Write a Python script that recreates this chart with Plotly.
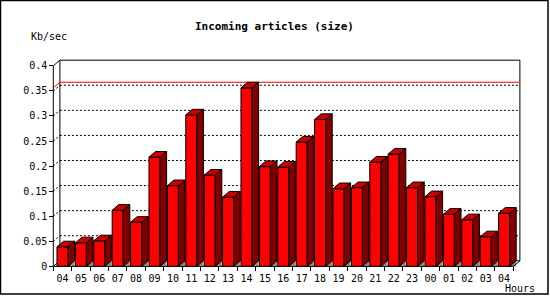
import plotly.graph_objects as go

# ---- data ----
hours = ['04', '05', '06', '07', '08', '09', '10', '11', '12', '13', '14', '15', '16',
         '17', '18', '19', '20', '21', '22', '23', '00', '01', '02', '03', '04']
values = [0.039, 0.047, 0.051, 0.112, 0.088, 0.218, 0.161, 0.302, 0.182, 0.138, 0.356,
          0.199, 0.198, 0.248, 0.293, 0.155, 0.157, 0.208, 0.224, 0.157, 0.139, 0.104,
          0.093, 0.059, 0.106]
y_ticks = [0, 0.05, 0.1, 0.15, 0.2, 0.25, 0.3, 0.35, 0.4]
y_ticktext = ['0', '0.05', '0.1', '0.15', '0.2', '0.25', '0.3', '0.35', '0.4']
title = 'Incoming articles (size)'
y_title = 'Kb/sec'
x_title = 'Hours'

# ---- geometry (pixel layout of the 3D frame) ----
W, H = 550, 300
n = len(hours)
x_left_px, x_right_px = 53.3, 513.3          # front x-axis extent
y0_px, ytop_px = 270.0, 66.7                 # front y-axis: 0 and 0.4
ymax = 0.4
sx = (x_right_px - x_left_px) / n            # px per category
sy = (y0_px - ytop_px) / ymax                # px per unit
depth_x_px, depth_y_px = 6.6, 5.7
dxu = depth_x_px / sx
dyu = depth_y_px / sy
pad = 2.0
bw = 0.6
hw = bw / 2

xr = [-0.5 - pad / sx, n - 0.5 + dxu + pad / sx]
yr = [-pad / sy, ymax + dyu + pad / sy]
xdom = [(x_left_px - pad) / W, (x_right_px + depth_x_px + pad) / W]
ydom = [(H - (y0_px + pad)) / H, (H - (ytop_px - depth_y_px - pad)) / H]

xs = list(range(n))

fig = go.Figure()

# floor shadow triangles
tx, ty = [], []
for i, v in zip(xs, values):
    tx += [i + hw, i + hw + dxu, i + hw + dxu, i + hw, None]
    ty += [0, dyu, 0, 0, None]
fig.add_trace(go.Scatter(x=tx, y=ty, fill='toself', fillcolor='#8c8c8c', mode='lines',
                         line=dict(color='#8c8c8c', width=0), hoverinfo='skip', showlegend=False))

# front faces
fig.add_trace(go.Bar(x=xs, y=values, width=bw, marker=dict(color='#ff0000', line=dict(color='black', width=1)),
                     hoverinfo='skip', showlegend=False))

# side faces
sxp, syp = [], []
for i, v in zip(xs, values):
    sxp += [i + hw, i + hw + dxu, i + hw + dxu, i + hw, i + hw, None]
    syp += [v, v + dyu, dyu, 0, v, None]
fig.add_trace(go.Scatter(x=sxp, y=syp, fill='toself', fillcolor='#800000', mode='lines',
                         line=dict(color='black', width=1), hoverinfo='skip', showlegend=False))

# top faces
txp, typ = [], []
for i, v in zip(xs, values):
    txp += [i - hw, i - hw + dxu, i + hw + dxu, i + hw, i - hw, None]
    typ += [v, v + dyu, v + dyu, v, v, None]
fig.add_trace(go.Scatter(x=txp, y=typ, fill='toself', fillcolor='#cc0000', mode='lines',
                         line=dict(color='black', width=1), hoverinfo='skip', showlegend=False))

shapes = []
L = dict(color='black', width=1)
# back wall
shapes.append(dict(type='rect', xref='x', yref='y', x0=-0.5 + dxu, x1=n - 0.5 + dxu,
                   y0=dyu, y1=ymax + dyu, line=L, layer='below'))
# gridlines on back wall + slants
for v in y_ticks[1:-1]:
    shapes.append(dict(type='line', xref='x', yref='y', x0=-0.5 + dxu, x1=n - 0.5 + dxu,
                       y0=v + dyu, y1=v + dyu, line=dict(color='black', width=1, dash='2px,2px'), layer='below'))
    shapes.append(dict(type='line', xref='x', yref='y', x0=-0.5, x1=-0.5 + dxu,
                       y0=v, y1=v + dyu, line=dict(color='black', width=1, dash='2px,2px'), layer='below'))
# top-left slant, floor slants
shapes.append(dict(type='line', xref='x', yref='y', x0=-0.5, x1=-0.5 + dxu, y0=ymax, y1=ymax + dyu, line=L))
shapes.append(dict(type='line', xref='x', yref='y', x0=-0.5, x1=-0.5 + dxu, y0=0, y1=dyu, line=L, layer='below'))
shapes.append(dict(type='line', xref='x', yref='y', x0=n - 0.5, x1=n - 0.5 + dxu, y0=0, y1=dyu, line=L))
# max line (red)
vmax = max(values)
shapes.append(dict(type='line', xref='x', yref='y', x0=-0.5 + dxu, x1=n - 0.5 + dxu,
                   y0=vmax + dyu, y1=vmax + dyu, line=dict(color='#ff0000', width=1), layer='below'))
shapes.append(dict(type='line', xref='x', yref='y', x0=-0.5, x1=-0.5 + dxu,
                   y0=vmax, y1=vmax + dyu, line=dict(color='#ff0000', width=1), layer='below'))
# front axes
shapes.append(dict(type='line', xref='x', yref='y', x0=-0.5, x1=-0.5, y0=0, y1=ymax, line=L))
shapes.append(dict(type='line', xref='x', yref='y', x0=-0.5, x1=n - 0.5, y0=0, y1=0, line=L))
# outer frame
shapes.append(dict(type='rect', xref='paper', yref='paper', x0=0.5 / W, x1=548 / W,
                   y0=(H - 298) / H, y1=(H - 0.5) / H, line=dict(color='black', width=1.5)))

font = dict(family='DejaVu Sans Mono', size=10, color='black')

fig.update_layout(
    width=W, height=H, margin=dict(l=0, r=0, t=0, b=0),
    paper_bgcolor='white', plot_bgcolor='white',
    showlegend=False, barmode='overlay',
    shapes=shapes,
    xaxis=dict(range=xr, domain=xdom, anchor='free', position=(H - y0_px) / H,
               tickmode='array', tickvals=xs, ticktext=hours, ticks='',
               ticklabelstandoff=5,
               showgrid=False, zeroline=False, showline=False, tickfont=font,
               minor=dict(tickmode='array', tickvals=[i - 0.5 for i in range(n + 1)],
                          ticks='outside', ticklen=4, tickcolor='black', showgrid=False)),
    yaxis=dict(range=yr, domain=ydom, anchor='free', position=x_left_px / W,
               tickmode='array', tickvals=y_ticks, ticktext=y_ticktext,
               ticks='outside', ticklen=4, tickcolor='black',
               showgrid=False, zeroline=False, showline=False, tickfont=font),
    annotations=[
        dict(text='<b>' + title + '</b>', xref='paper', yref='paper', x=274 / W, y=(H - 26.7) / H,
             xanchor='center', yanchor='middle', showarrow=False,
             font=dict(family='DejaVu Sans Mono', size=11, color='black')),
        dict(text=y_title, xref='paper', yref='paper', x=29 / W, y=(H - 36.5) / H,
             xanchor='left', yanchor='middle', showarrow=False, font=font),
        dict(text=x_title, xref='paper', yref='paper', x=503 / W, y=(H - 292) / H,
             xanchor='left', yanchor='middle', showarrow=False, font=font),
    ],
)

fig.write_html('out.html')
